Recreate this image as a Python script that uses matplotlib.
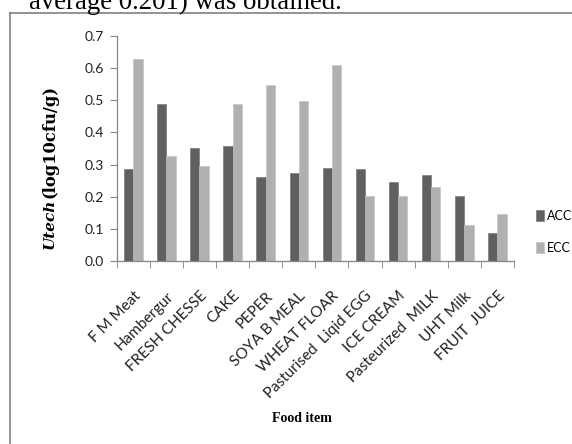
import matplotlib
matplotlib.use("Agg")
import matplotlib.pyplot as plt
import numpy as np

categories = ["F M Meat", "Hambergur", "FRESH CHESSE", "CAKE", "PEPER", "SOYA B MEAL",
              "WHEAT FLOAR", "Pasturised  Liqid EGG", "ICE CREAM", "Pasteurized  MILK",
              "UHT Milk", "FRUIT  JUICE"]
acc = [0.285, 0.489, 0.353, 0.359, 0.261, 0.274, 0.289, 0.285, 0.246, 0.267, 0.201, 0.088]
ecc = [0.628, 0.326, 0.295, 0.489, 0.547, 0.498, 0.611, 0.201, 0.201, 0.230, 0.112, 0.145]
yticks = [0.0, 0.1, 0.2, 0.3, 0.4, 0.5, 0.6, 0.7]

sans = "Lato"
serif = "Liberation Serif"

W, H = 572, 444
fig = plt.figure(figsize=(W / 100, H / 100), dpi=100)
ax = fig.add_axes([116.7 / W, 1 - 261 / H, (514 - 116.7) / W, (261 - 36) / H])

x = np.arange(len(categories))
bw = 0.28
ax.bar(x - bw / 2, acc, bw, color="#606060", edgecolor="#6e6e6e", linewidth=0.4, label="ACC")
ax.bar(x + bw / 2, ecc, bw, color="#b0b0b0", edgecolor="#c0c0c0", linewidth=0.4, label="ECC")

ax.set_xlim(-0.5, len(categories) - 0.5)
ax.set_ylim(0, 0.7)
ax.set_yticks(yticks)
ax.set_yticklabels([f"{v:.1f}" for v in yticks], fontfamily=sans, fontsize=10, color="#222222")
ax.set_xticks(x)
ax.set_xticklabels(categories, rotation=45, ha="right", rotation_mode="anchor",
                   fontfamily=sans, fontsize=11, color="#222222")
ax.set_xticks(np.arange(-0.5, len(categories)), minor=True)
ax.tick_params(axis="x", which="major", length=0, pad=20)
ax.tick_params(axis="x", which="minor", length=5, color="#868686", direction="out")
ax.tick_params(axis="y", length=5, color="#868686", direction="out", pad=4)
for s in ["top", "right"]:
    ax.spines[s].set_visible(False)
for s in ["left", "bottom"]:
    ax.spines[s].set_color("#868686")
    ax.spines[s].set_linewidth(0.9)

leg = ax.legend(loc="center left", bbox_to_anchor=(536 / W, 1 - 232 / H),
                bbox_transform=fig.transFigure, frameon=False, borderpad=0, borderaxespad=0,
                prop={"family": sans, "size": 9}, handlelength=0.6, handleheight=1.0,
                handletextpad=0.3, labelspacing=1.6)

fig.text(50 / W, 1 - 224 / H, "Utech", rotation=90, ha="center", va="center",
         fontfamily="DejaVu Serif", fontweight="bold", style="italic", fontsize=11)
fig.text(50 / W, 1 - 141 / H, "(log10cfu/g)", rotation=90, ha="center", va="center",
         fontfamily="DejaVu Serif", fontweight="bold", fontsize=11.8)
fig.text(302 / W, 1 - 418 / H, "Food item", ha="center", va="center",
         fontfamily=serif, fontweight="bold", fontsize=10)

fig.text(29 / W, 1 - 9 / H, "average 0.201) was obtained.", ha="left", va="baseline",
         fontfamily=serif, fontsize=19.3)

# outer frame
fig.add_artist(plt.Line2D([10 / W, 1.0], [1 - 12.7 / H] * 2, transform=fig.transFigure,
                          color="#808080", linewidth=1.2))
fig.add_artist(plt.Line2D([10 / W] * 2, [0, 1 - 12.7 / H], transform=fig.transFigure,
                          color="#808080", linewidth=1.2))

fig.savefig("out.png", dpi=100)
